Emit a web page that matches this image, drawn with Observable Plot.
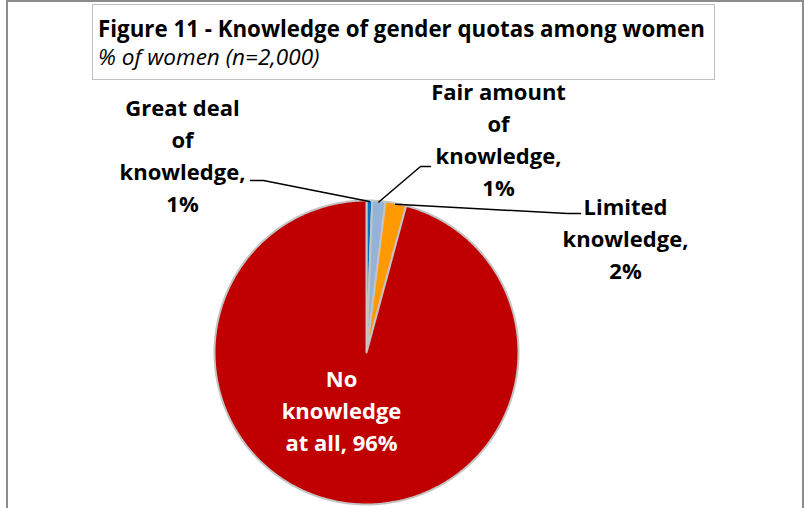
<!DOCTYPE html>
<html><head><meta charset="utf-8">
<script src="https://cdn.jsdelivr.net/npm/d3@7"></script>
<script src="https://cdn.jsdelivr.net/npm/@observablehq/plot@0.6"></script>
<style>
body{margin:0;background:#fff;}
#wrap{position:relative;width:804px;height:508px;overflow:hidden;background:#fff;font-family:"Open Sans",sans-serif;}
#chart{position:absolute;left:0;top:0;}
#frame{position:absolute;left:6px;top:0;width:798px;height:530px;border:2px solid #8c8c8c;box-sizing:border-box;pointer-events:none;}
#title{position:absolute;left:92px;top:4px;width:623px;height:76px;border:1.5px solid #c0c0c0;box-sizing:border-box;background:#fff;padding:9px 0 0 5px;}
#title .t{font-weight:700;font-size:22.3px;line-height:29px;color:#000;white-space:nowrap;}
#title .s{font-style:italic;font-size:22.5px;line-height:28px;color:#000;white-space:nowrap;}
</style></head>
<body>
<div id="wrap">
  <div id="chart"></div>
  <div id="frame"></div>
  <div id="title"><div class="t">Figure 11 - Knowledge of gender quotas among women</div><div class="s">% of women (n=2,000)</div></div>
</div>
<script>
// ---- data ----
const categories = ["Great deal of knowledge", "Fair amount of knowledge", "Limited knowledge", "No knowledge at all"];
const values = [0.6, 1.4, 2.2, 95.8];
const valueLabels = ["1%", "1%", "2%", "96%"];
const labelTexts = ["Great deal\nof\nknowledge,\n1%", "Fair amount\nof\nknowledge,\n1%", "Limited\nknowledge,\n2%", "No\nknowledge\nat all, 96%"];
const colors = ["#0070C0", "#95B3D7", "#FF9900", "#C00000"];

// ---- layout (pixels) ----
const W = 804, H = 508;
const cx = 366, cy = 352, R = 152;
const labelLayout = [
  {x: 182, y: 153, fill: "#000", elbow: [[250, 180], [263, 180]]},
  {x: 498, y: 137, fill: "#000", elbow: [[430, 166], [420, 166]]},
  {x: 625, y: 236, fill: "#000", elbow: [[580, 213], [567, 213]]},
  {x: 341, y: 408, fill: "#fff", elbow: null}
];

const arcs = d3.pie().sort(null).value(d => d)(values);
const pt = (a, r) => [cx + r * Math.sin(a), cy - r * Math.cos(a)];

const sliceRows = [];
arcs.forEach((a, i) => {
  const cat = categories[i];
  const steps = Math.max(4, Math.ceil((a.endAngle - a.startAngle) / 0.01));
  sliceRows.push({cat, p: [cx, cy]});
  for (let k = 0; k <= steps; k++) {
    const ang = a.startAngle + (a.endAngle - a.startAngle) * k / steps;
    sliceRows.push({cat, p: pt(ang, R)});
  }
  sliceRows.push({cat, p: [cx, cy]});
});

const leaderRows = [];
arcs.forEach((a, i) => {
  const L = labelLayout[i];
  if (!L.elbow) return;
  const mid = (a.startAngle + a.endAngle) / 2;
  L.elbow.forEach(p => leaderRows.push({cat: categories[i], p}));
  leaderRows.push({cat: categories[i], p: pt(mid, R - 1)});
});

const labelRows = categories.map((c, i) => ({cat: c, text: labelTexts[i], x: labelLayout[i].x, y: labelLayout[i].y, fill: labelLayout[i].fill}));

const chart = Plot.plot({
  width: W, height: H,
  margin: 0,
  x: {domain: [0, W], range: [0, W], axis: null},
  y: {domain: [0, H], range: [0, H], axis: null},
  color: {domain: categories, range: colors},
  style: {background: "transparent"},
  marks: [
    Plot.line(sliceRows, {x: d => d.p[0], y: d => d.p[1], z: "cat", fill: "cat", stroke: "#c4c4c4", strokeWidth: 2, strokeLinejoin: "round", curve: "linear"}),
    Plot.line(leaderRows, {x: d => d.p[0], y: d => d.p[1], z: "cat", stroke: "#000", strokeWidth: 1.5, strokeLinejoin: "miter"}),
    Plot.text(labelRows, {x: "x", y: "y", text: "text", fill: d => d.fill, fontWeight: "bold", fontSize: 22, lineHeight: 1.45, fontFamily: "Open Sans", textAnchor: "middle"})
  ]
});
document.getElementById("chart").appendChild(chart);
</script>
</body></html>
